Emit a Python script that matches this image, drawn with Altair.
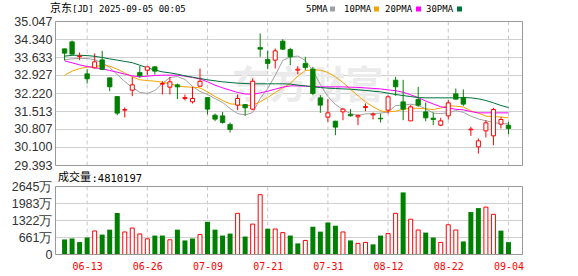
import altair as alt
import pandas as pd

# ---------------- data ----------------
dates = ["06-10", "06-11", "06-12", "06-13", "06-16", "06-17", "06-18", "06-20", "06-23", "06-24",
         "06-25", "06-26", "06-27", "06-30", "07-01", "07-02", "07-03", "07-07", "07-08", "07-09",
         "07-10", "07-11", "07-14", "07-15", "07-16", "07-17", "07-18", "07-21", "07-22", "07-23",
         "07-24", "07-25", "07-28", "07-29", "07-30", "07-31", "08-01", "08-04", "08-05", "08-06",
         "08-07", "08-08", "08-11", "08-12", "08-13", "08-14", "08-15", "08-18", "08-19", "08-20",
         "08-21", "08-22", "08-25", "08-26", "08-27", "08-28", "08-29", "09-02", "09-03", "09-04"]

opens = [33.974, 34.249, 33.67, 32.992, 33.228, 33.542, 32.835, 32.102, 31.565, 32.35,
         33.044, 33.136, 33.267, 32.586, 32.468, 32.56, 32.02, 31.893, 32.508, 32.063,
         31.369, 31.343, 31.003, 31.762, 31.788, 31.605, 34.026, 33.555, 33.529, 34.275,
         33.948, 33.136, 33.398, 33.175, 32.05, 31.29, 31.133, 31.5, 31.395, 31.304,
         31.67, 31.38, 31.25, 31.565, 32.743, 31.893, 31.146, 31.984, 31.5, 31.251,
         30.976, 31.343, 32.207, 32.063, 30.793, 30.126, 30.754, 30.558, 31.015, 30.976]
highs = [33.98, 34.301, 33.83, 33.175, 33.79, 33.895, 32.84, 32.11, 31.67, 32.874,
         33.306, 33.27, 33.30, 32.70, 32.874, 32.612, 32.18, 32.48, 33.20, 32.07,
         31.434, 31.50, 31.08, 32.18, 31.80, 32.809, 34.576, 33.895, 33.987, 34.35,
         34.013, 33.293, 33.66, 33.267, 32.154, 32.0, 31.15, 31.657, 31.605, 31.395,
         31.827, 31.474, 31.434, 32.154, 32.874, 32.756, 31.762, 32.482, 31.867, 31.474,
         31.264, 31.958, 32.416, 32.377, 30.911, 30.453, 31.173, 31.657, 31.29, 31.107]
lows = [33.52, 33.725, 33.53, 32.612, 33.20, 33.136, 32.311, 31.369, 31.28, 32.115,
        32.835, 32.94, 32.966, 32.18, 32.18, 31.998, 31.945, 31.827, 32.48, 31.395,
        31.133, 31.04, 30.688, 31.565, 31.343, 31.565, 33.66, 33.175, 33.20, 33.92,
        33.332, 32.98, 33.136, 32.154, 31.461, 31.107, 30.584, 31.172, 31.317, 30.976,
        31.526, 31.2, 31.081, 31.434, 32.128, 31.173, 31.146, 31.696, 31.133, 30.976,
        30.937, 31.199, 31.99, 31.736, 30.558, 29.864, 30.492, 30.191, 30.846, 30.623]
closes = [33.804, 33.764, 33.69, 32.796, 33.463, 33.162, 32.482, 31.448, 31.591, 32.56,
          32.913, 33.267, 33.097, 32.612, 32.678, 32.48, 32.06, 32.024, 32.70, 31.605,
          31.212, 31.081, 30.806, 32.024, 31.657, 32.70, 33.96, 33.398, 33.895, 33.96,
          33.66, 33.175, 33.241, 32.22, 31.762, 31.46, 30.898, 31.605, 31.343, 31.36,
          31.71, 31.41, 31.225, 32.09, 32.482, 31.605, 31.696, 31.762, 31.264, 31.199,
          31.146, 31.853, 31.997, 31.801, 30.82, 30.361, 31.068, 31.591, 31.199, 30.846]

# volume in 万 shares
volumes = [585, 623, 483, 661, 915, 775, 966, 1614, 877, 1030,
           801, 610, 737, 737, 572, 966, 547, 623, 775, 1271,
           966, 737, 813, 1602, 699, 1182, 2326, 1004, 991, 852,
           737, 432, 547, 1080, 890, 1246, 1119, 877, 547, 432,
           470, 394, 737, 813, 1602, 2415, 1373, 953, 852, 661,
           470, 1157, 953, 508, 1652, 1805, 1843, 1564, 928, 481]
vol_up = [0, 0, 0, 0, 1, 0, 0, 0, 1, 1,
          1, 1, 0, 0, 1, 0, 0, 0, 1, 0,
          0, 0, 0, 1, 0, 1, 1, 0, 1, 1,
          0, 0, 1, 0, 0, 0, 0, 1, 0, 1,
          1, 0, 0, 1, 1, 0, 1, 1, 0, 0,
          1, 1, 1, 0, 0, 0, 1, 1, 0, 0]

ma5 = [33.543, 33.58, 33.60, 33.594, 33.543, 33.437, 33.24, 32.966, 32.69, 32.456,
       32.27, 32.22, 32.338, 32.613, 32.848, 32.887, 32.77, 32.5, 32.30, 32.18,
       32.02, 31.87, 31.63, 31.43, 31.38, 31.47, 32.02, 32.42, 32.93, 33.52,
       33.65, 33.69, 33.52, 33.12, 32.57, 32.10, 31.79, 31.59, 31.43, 31.36,
       31.42, 31.43, 31.45, 31.49, 31.75, 31.76, 31.80, 31.75, 31.62, 31.45,
       31.43, 31.46, 31.55, 31.48, 31.33, 31.22, 31.15, 31.08, 31.04, 31.03]
ma10 = [32.94, 33.097, 33.20, 33.254, 33.28, 33.32, 33.293, 33.175, 33.03, 32.874,
        32.757, 32.73, 32.704, 32.665, 32.61, 32.52, 32.48, 32.468, 32.44, 32.285,
        32.10, 31.945, 31.815, 31.788, 31.736, 31.762, 31.893, 32.063, 32.26, 32.44,
        32.62, 32.90, 33.12, 33.15, 33.136, 33.044, 32.874, 32.65, 32.39, 32.13,
        31.893, 31.696, 31.54, 31.50, 31.526, 31.60, 31.64, 31.64, 31.62, 31.59,
        31.65, 31.74, 31.72, 31.69, 31.54, 31.45, 31.33, 31.31, 31.30, 31.266]
ma20 = [33.503, 33.424, 33.345, 33.28, 33.228, 33.19, 33.123, 33.057, 32.979, 32.913,
        32.874, 32.90, 32.927, 32.94, 32.94, 32.94, 32.90, 32.848, 32.796, 32.68,
        32.547, 32.443, 32.35, 32.26, 32.20, 32.19, 32.24, 32.31, 32.39, 32.468,
        32.52, 32.52, 32.508, 32.495, 32.48, 32.48, 32.48, 32.48, 32.468, 32.46,
        32.44, 32.42, 32.40, 32.36, 32.33, 32.27, 32.17, 32.06, 31.925, 31.81,
        31.70, 31.65, 31.60, 31.58, 31.51, 31.46, 31.46, 31.46, 31.46, 31.46]
ma30 = [33.686, 33.72, 33.72, 33.71, 33.68, 33.634, 33.58, 33.53, 33.48, 33.43,
        33.33, 33.23, 33.14, 33.07, 33.03, 32.98, 32.913, 32.86, 32.81, 32.757,
        32.717, 32.678, 32.652, 32.626, 32.612, 32.60, 32.60, 32.60, 32.60, 32.60,
        32.59, 32.547, 32.52, 32.48, 32.455, 32.43, 32.416, 32.40, 32.39, 32.364,
        32.34, 32.31, 32.285, 32.233, 32.18, 32.14, 32.10, 32.06, 32.05, 32.05,
        32.05, 32.05, 32.05, 32.06, 32.05, 32.01, 31.945, 31.853, 31.75, 31.67]

price_ticks = [29.393, 30.100, 30.807, 31.513, 32.220, 32.927, 33.633, 34.340, 35.047]
vol_ticks = [0, 661.25, 1322.5, 1983.75, 2645]
vol_tick_labels = ["0", "661万", "1322万", "1983万", "2645万"]
vol_grid = [661.25, 1322.5, 1983.75]
date_ticks = [3, 11, 19, 27, 35, 43, 51, 59]
title_cjk = "京东"
title_rest = "[JD] 2025-09-05 00:05"
vol_title_cjk = "成交量"
vol_title_rest = ":4810197"
watermark_text = "东方财富"
ma_names = ["5PMA", "10PMA", "20PMA", "30PMA"]
ma_fields = ["ma5", "ma10", "ma20", "ma30"]
ma_colors = ["#a0a0a0", "#f5a300", "#ff00ff", "#00703c"]

# ---------------- layout / style ----------------
RED, GREEN = "#ff0000", "#008000"
W, H = 467, 235
P_TOP, P_BOT = 1, 145
V_TOP, V_BOT = 166, 234
LABEL_FONT = "Liberation Sans"
CJK_FONT = "Noto Sans CJK SC"
MONO = "DejaVu Sans Mono"

df = pd.DataFrame({
    "i": list(range(len(dates))), "date": dates,
    "open": opens, "high": highs, "low": lows, "close": closes,
    "vol": volumes, "up": vol_up,
    "ma5": ma5, "ma10": ma10, "ma20": ma20, "ma30": ma30,
})
one = pd.DataFrame({"k": [0]})
dticks = pd.DataFrame({"i": date_ticks})

label_expr = "[" + ",".join("'%s'" % d for d in dates) + "][datum.value]"
x_scale = alt.Scale(domain=[-0.54, 60.2], nice=False, zero=False)
x_axis = alt.Axis(values=date_ticks, labelExpr=label_expr, title=None, grid=False,
                  domain=False, ticks=False, labelColor=RED, labelFont=MONO,
                  labelFontSize=10, labelPadding=6, labelFlush=False, labelOverlap=False)


def X():
    return alt.X("i:Q", scale=x_scale, axis=x_axis)


p_scale = alt.Scale(domain=[29.393, 35.047], range=[P_BOT, P_TOP], nice=False, zero=False)
p_axis = alt.Axis(values=price_ticks, format=".3f", title=None, domain=False, ticks=False,
                  labelPadding=3, labelFont=LABEL_FONT, labelFontSize=12.5,
                  labelColor="#333333", grid=True, gridColor="#d0d0d0", gridWidth=1,
                  translate=0)


def PY(field):
    return alt.Y(field + ":Q", scale=p_scale, axis=p_axis)


v_scale = alt.Scale(domain=[0, 2645], range=[V_BOT, V_TOP], nice=False, zero=True)


def VY(field):
    return alt.Y(field + ":Q", scale=v_scale, axis=None)


def label(text, x, y, font, size):
    return alt.Chart(one).mark_text(
        text=text, font=font, fontSize=size, color="#000000", align="left", baseline="middle"
    ).encode(x=alt.value(x), y=alt.value(y))


# ---------------- price panel ----------------
watermark = alt.Chart(one).mark_text(
    text=watermark_text, fontSize=38, font=CJK_FONT, fontWeight="bold",
    color="#ebebeb", align="left", baseline="middle"
).encode(x=alt.value(176), y=alt.value(66))

vgrid_p = alt.Chart(dticks).mark_rule(color="#c8c8c8", strokeDash=[4, 3], strokeWidth=1).encode(
    x=X(), y=alt.value(P_TOP), y2=alt.value(P_BOT))

ma_layers = [
    alt.Chart(df).mark_line(color=c, strokeWidth=1).encode(x=X(), y=PY(f))
    for f, c in zip(ma_fields, ma_colors)
]

is_up = alt.datum.close >= alt.datum.open
wick = alt.Chart(df).mark_rule(strokeWidth=1).encode(
    x=X(), y=PY("low"), y2="high",
    color=alt.condition(is_up, alt.value(RED), alt.value(GREEN)))
body_up = alt.Chart(df).transform_filter(is_up).mark_bar(
    size=4, fill="white", stroke=RED, strokeWidth=1).encode(x=X(), y=PY("open"), y2="close")
body_dn = alt.Chart(df).transform_filter(~is_up).mark_bar(
    size=4.5, fill=GREEN, stroke=GREEN, strokeWidth=0.8).encode(x=X(), y=PY("open"), y2="close")

frame_p = alt.Chart(one).mark_rect(fillOpacity=0, stroke="#999999", strokeWidth=1).encode(
    x=alt.value(0), x2=alt.value(W), y=alt.value(P_TOP), y2=alt.value(P_BOT))

header = [label(title_cjk, -5.5, -12, CJK_FONT, 11),
          label(title_rest, 16.5, -11.5, MONO, 9)]

legend_text_x = [250.5, 288.5, 329.5, 370.5]
legend_sq_x = [277, 321, 363, 404]
legend_layers = []
for name, col, tx, sx in zip(ma_names, ma_colors, legend_text_x, legend_sq_x):
    legend_layers.append(label(name, tx, -11.5, MONO, 9))
    legend_layers.append(alt.Chart(one).mark_square(size=25, color=col, opacity=1).encode(
        x=alt.value(sx), y=alt.value(-11.5)))

price = alt.layer(watermark, vgrid_p, *ma_layers, wick, body_up, body_dn, frame_p,
                  *header, *legend_layers)

# ---------------- volume panel ----------------
vgrid_v = alt.Chart(dticks).mark_rule(color="#c8c8c8", strokeDash=[4, 3], strokeWidth=1).encode(
    x=X(), y=alt.value(V_TOP), y2=alt.value(V_BOT))
hgrid_v = alt.Chart(pd.DataFrame({"v": vol_grid})).mark_rule(color="#d0d0d0", strokeWidth=1).encode(
    x=alt.value(0), x2=alt.value(W), y=VY("v"))
vbar_up = alt.Chart(df).transform_filter(alt.datum.up == 1).mark_bar(
    size=4, fill="white", stroke=RED, strokeWidth=1).encode(x=X(), y=VY("vol"))
vbar_dn = alt.Chart(df).transform_filter(alt.datum.up == 0).mark_bar(
    size=5, fill=GREEN).encode(x=X(), y=VY("vol"))
vlabels = alt.Chart(pd.DataFrame({"v": vol_ticks, "t": vol_tick_labels})).mark_text(
    align="right", baseline="middle", font=LABEL_FONT, fontSize=12.5, color="#333333"
).encode(x=alt.value(-3), y=VY("v"), text="t:N")
frame_v = alt.Chart(one).mark_rect(fillOpacity=0, stroke="#999999", strokeWidth=1).encode(
    x=alt.value(0), x2=alt.value(W), y=alt.value(V_TOP), y2=alt.value(V_BOT))
vtitle = [label(vol_title_cjk, 2.5, 157.5, CJK_FONT, 11),
          label(vol_title_rest, 36, 158, MONO, 10.5)]

vol = alt.layer(vgrid_v, hgrid_v, vbar_up, vbar_dn, vlabels, frame_v, *vtitle)

chart = alt.layer(price, vol).resolve_scale(y="independent").properties(
    width=W, height=H,
    autosize=alt.AutoSizeParams(type="none"),
    padding={"left": 55.5, "top": 20.5, "right": 55.5, "bottom": 20.5},
    background="white",
).configure_view(stroke=None)

chart.save("out.html", embed_options={"renderer": "svg", "actions": False})
